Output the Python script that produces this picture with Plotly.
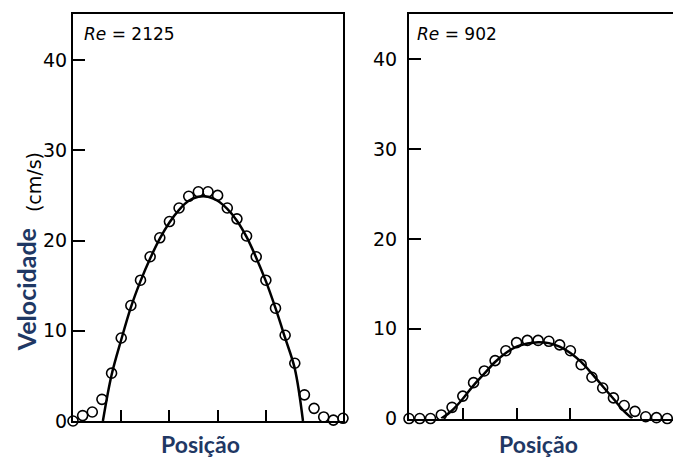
import plotly.graph_objects as go

# ---- data ----
# Re = 2125 panel
pos_2125 = [0.0, 0.2, 0.4, 0.6, 0.8, 1.0, 1.2, 1.4, 1.6, 1.8, 2.0, 2.2, 2.4, 2.6, 2.8,
            3.0, 3.2, 3.4, 3.6, 3.8, 4.0, 4.2, 4.4, 4.6, 4.8, 5.0, 5.2, 5.4, 5.6]
vel_2125 = [0.0, 0.6, 1.0, 2.4, 5.3, 9.2, 12.8, 15.6, 18.2, 20.3, 22.1, 23.6, 24.9, 25.4, 25.4,
            25.0, 23.6, 22.4, 20.5, 18.2, 15.6, 12.5, 9.5, 6.4, 2.9, 1.4, 0.45, 0.1, 0.3]
fit_pos_2125 = [0.62, 0.8, 1.0, 1.2, 1.4, 1.6, 1.8, 2.0, 2.2, 2.4, 2.6, 2.8, 3.0, 3.2, 3.4,
                3.6, 3.8, 4.0, 4.2, 4.4, 4.6, 4.77]
fit_vel_2125 = [0.0, 5.1, 9.0, 12.6, 15.5, 18.0, 20.2, 22.0, 23.4, 24.4, 24.85, 24.85, 24.4, 23.5, 22.2,
                20.4, 18.1, 15.5, 12.5, 9.2, 5.8, 0.0]

# Re = 902 panel
pos_902 = [0.0, 0.2, 0.4, 0.6, 0.8, 1.0, 1.2, 1.4, 1.6, 1.8, 2.0, 2.2, 2.4, 2.6, 2.8,
           3.0, 3.2, 3.4, 3.6, 3.8, 4.0, 4.2, 4.4, 4.6, 4.8]
vel_902 = [0.0, 0.0, 0.0, 0.4, 1.25, 2.5, 4.0, 5.3, 6.45, 7.55, 8.45, 8.7, 8.7, 8.6, 8.2,
           7.55, 6.0, 4.6, 3.4, 2.3, 1.45, 0.8, 0.2, 0.1, 0.0]
fit_pos_902 = [0.6, 0.8, 1.0, 1.2, 1.4, 1.6, 1.8, 2.0, 2.2, 2.4, 2.6, 2.8, 3.0, 3.2, 3.4,
               3.6, 3.8, 4.0, 4.15]
fit_vel_902 = [0.0, 0.9, 2.2, 3.7, 5.0, 6.3, 7.3, 8.0, 8.35, 8.5, 8.4, 8.0, 7.3, 6.3, 5.0,
               3.6, 2.2, 0.8, 0.0]

x_ticks_left = [1, 2, 3, 4]
x_ticks_right = [1, 2, 3]
y_ticks = [0, 10, 20, 30, 40]
y_labels = ["0", "10", "20", "30", "40"]

TITLE_COLOR = "#1f3864"
TICK_FONT = dict(family="DejaVu Sans", size=19, color="black")

fig = go.Figure()

line_style = dict(color="black", width=2.5)
marker_style = dict(symbol="circle-open", size=10, color="black", line=dict(width=1.6, color="black"))

fig.add_trace(go.Scatter(x=fit_pos_2125, y=fit_vel_2125, mode="lines", line=line_style,
                         line_shape="spline", xaxis="x", yaxis="y", cliponaxis=False, showlegend=False))
fig.add_trace(go.Scatter(x=pos_2125, y=vel_2125, mode="markers", marker=marker_style,
                         xaxis="x", yaxis="y", cliponaxis=False, showlegend=False))
fig.add_trace(go.Scatter(x=fit_pos_902, y=fit_vel_902, mode="lines", line=line_style,
                         line_shape="spline", xaxis="x2", yaxis="y2", cliponaxis=False, showlegend=False))
fig.add_trace(go.Scatter(x=pos_902, y=vel_902, mode="markers", marker=marker_style,
                         xaxis="x2", yaxis="y2", cliponaxis=False, showlegend=False))

common_x = dict(showgrid=False, zeroline=False, showline=True, linecolor="black", linewidth=2,
                ticks="inside", ticklen=11, tickwidth=2, tickcolor="black", showticklabels=False)
common_y = dict(showgrid=False, zeroline=False, showline=True, linecolor="black", linewidth=2,
                ticks="inside", ticklen=12, tickwidth=2, tickcolor="black",
                tickvals=y_ticks, ticktext=y_labels, tickfont=TICK_FONT)

fig.update_layout(
    width=673, height=457,
    margin=dict(l=73, r=0, t=14, b=36),
    paper_bgcolor="white", plot_bgcolor="white",
    xaxis=dict(domain=[0, 0.45], range=[0, 5.6], tickvals=x_ticks_left, mirror=True,
               anchor="y", **common_x),
    yaxis=dict(domain=[0, 1], range=[0, 45.1], mirror=True, anchor="x", **common_y),
    xaxis2=dict(domain=[0.56, 1], range=[0, 4.907], tickvals=x_ticks_right, mirror=True,
                anchor="y2", **common_x),
    yaxis2=dict(domain=[0.006, 1], range=[0, 45.04], mirror=False, anchor="x2",
                ticklabelstandoff=6, **common_y),
)

annots = [
    dict(text="<i>Re</i> = 2125", x=0.015, y=0.951, xanchor="left", yanchor="middle",
         font=dict(family="DejaVu Sans", size=17, color="black")),
    dict(text="<i>Re</i> = 902", x=0.57, y=0.951, xanchor="left", yanchor="middle",
         font=dict(family="DejaVu Sans", size=17, color="black")),
    dict(text="<b>Posição</b>", x=0.213, y=-0.056, xanchor="center", yanchor="middle",
         font=dict(family="Lato", size=23, color=TITLE_COLOR)),
    dict(text="<b>Posição</b>", x=0.776, y=-0.056, xanchor="center", yanchor="middle",
         font=dict(family="Lato", size=23, color=TITLE_COLOR)),
    dict(text="<b>Velocidade</b>", x=-0.078, y=0.322, xanchor="center", yanchor="middle",
         textangle=-90, font=dict(family="Lato", size=25, color=TITLE_COLOR)),
    dict(text="(cm/s)", x=-0.066, y=0.588, xanchor="center", yanchor="middle",
         textangle=-90, font=dict(family="DejaVu Sans", size=19, color="black")),
]
for a in annots:
    a.update(xref="paper", yref="paper", showarrow=False)
fig.update_layout(annotations=annots)

fig.write_html("out.html")
